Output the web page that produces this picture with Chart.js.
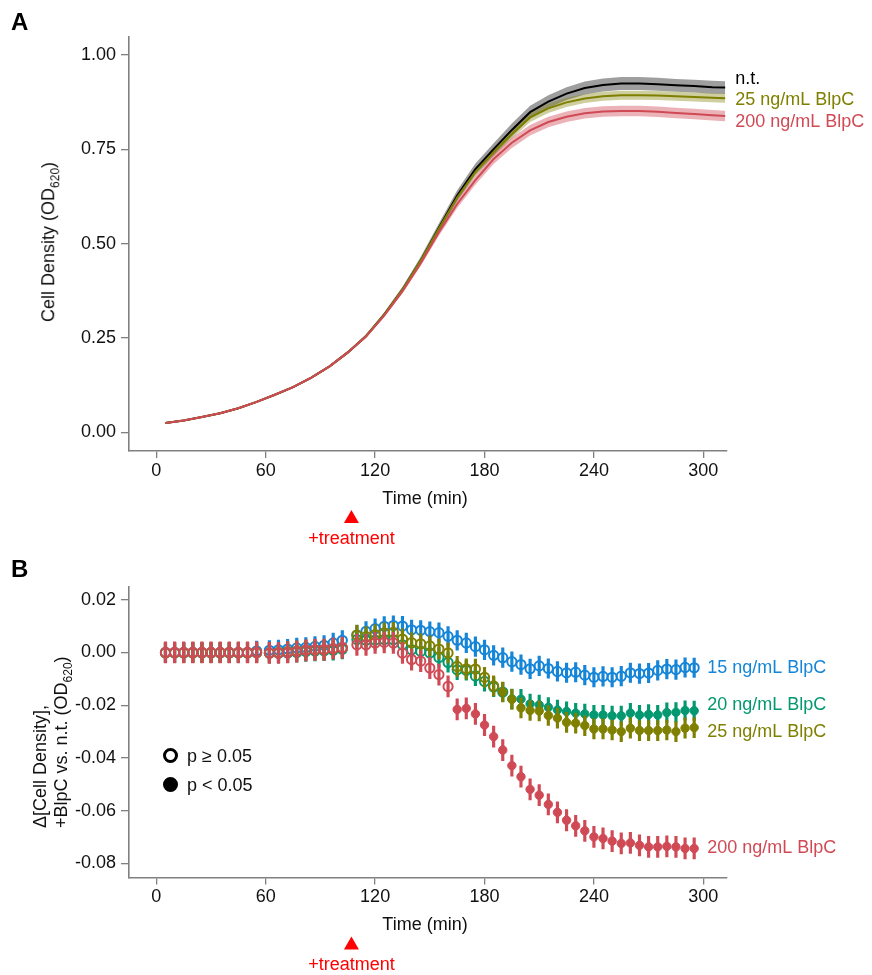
<!DOCTYPE html>
<html>
<head>
<meta charset="utf-8">
<title>Cell density after BlpC treatment</title>
<script src="https://cdn.jsdelivr.net/npm/chart.js"></script>
<style>
  body { margin: 0; background: #fff; font-family: "Liberation Sans", Arial, sans-serif; }
  #wrap { position: relative; width: 872px; height: 975px; }
  canvas { position: absolute; left: 0; }
  #chartA { top: 0; }
  #chartB { top: 560px; }
  .panel { position: absolute; left: 11px; font-weight: bold; font-size: 24px; line-height: 24px; }
  .ytitle { position: absolute; font-size: 18px; white-space: nowrap; color: #111; }
  .ytitle sub { font-size: 12px; }
  #titleA { left: 50px; top: 242px; transform: translate(-50%, -50%) rotate(-90deg); }
  #titleB { left: 30px; top: 828px; line-height: 21px; transform-origin: left top; transform: rotate(-90deg); }
  .key { position: absolute; left: 163px; font-size: 18px; line-height: 20px; color: #111; }
  .key span { display: inline-block; width: 9px; height: 9px; border: 3px solid #000; border-radius: 50%; vertical-align: -1px; margin-right: 9px; }
  .key span.full { background: #000; }
</style>
</head>
<body>
<div id="wrap">
  <canvas id="chartA" width="872" height="560"></canvas>
  <canvas id="chartB" width="872" height="415"></canvas>
  <div class="panel" style="top:10px">A</div>
  <div class="panel" style="top:557px">B</div>
  <div class="ytitle" id="titleA">Cell Density (OD<sub>620</sub>)</div>
  <div class="ytitle" id="titleB">Δ[Cell Density],<br>+BlpC vs. n.t. (OD<sub>620</sub>)</div>
  <div class="key" style="top:746px"><span></span>p ≥ 0.05</div>
  <div class="key" style="top:775px"><span class="full"></span>p &lt; 0.05</div>
</div>

<script>
// ---- data ----
var xTicks = [0, 60, 120, 180, 240, 300];
var yTicksA = [0, 0.25, 0.5, 0.75, 1];
var yTicksB = [0.02, 0, -0.02, -0.04, -0.06, -0.08];
var treatmentTime = 107;

// panel A: growth curves (mean and sd)
var timeA = [5, 15, 25, 35, 45, 55, 65, 75, 85, 95, 105, 115, 125, 135, 145, 155,
             165, 175, 185, 195, 205, 215, 225, 235, 245, 255, 265, 275, 285, 295, 305, 312];
var ntA    = [0.025, 0.032, 0.041, 0.051, 0.064, 0.081, 0.100, 0.120, 0.145, 0.175, 0.212, 0.255, 0.312, 0.378, 0.455, 0.542,
              0.627, 0.697, 0.750, 0.801, 0.848, 0.876, 0.897, 0.912, 0.920, 0.924, 0.924, 0.922, 0.919, 0.917, 0.914, 0.913];
var bl25A  = [0.025, 0.032, 0.041, 0.051, 0.064, 0.081, 0.100, 0.120, 0.145, 0.175, 0.212, 0.255, 0.312, 0.378, 0.455, 0.540,
              0.622, 0.690, 0.742, 0.790, 0.834, 0.858, 0.874, 0.884, 0.890, 0.893, 0.893, 0.892, 0.890, 0.888, 0.886, 0.885];
var bl200A = [0.025, 0.032, 0.041, 0.051, 0.064, 0.081, 0.100, 0.120, 0.145, 0.175, 0.212, 0.254, 0.310, 0.374, 0.448, 0.530,
              0.605, 0.668, 0.724, 0.767, 0.800, 0.822, 0.836, 0.845, 0.850, 0.851, 0.851, 0.849, 0.846, 0.843, 0.840, 0.838];
var ntSd    = [0.002, 0.002, 0.002, 0.002, 0.002, 0.002, 0.002, 0.002, 0.003, 0.003, 0.004, 0.005, 0.006, 0.008, 0.010, 0.012,
               0.014, 0.015, 0.016, 0.017, 0.017, 0.017, 0.017, 0.017, 0.017, 0.017, 0.017, 0.017, 0.017, 0.017, 0.017, 0.017];
var bl25Sd  = [0.001, 0.001, 0.001, 0.001, 0.001, 0.001, 0.002, 0.002, 0.002, 0.002, 0.003, 0.003, 0.004, 0.005, 0.006, 0.008,
               0.009, 0.010, 0.011, 0.012, 0.012, 0.012, 0.012, 0.012, 0.012, 0.012, 0.012, 0.012, 0.012, 0.012, 0.012, 0.012];
var bl200Sd = [0.001, 0.001, 0.001, 0.001, 0.001, 0.001, 0.002, 0.002, 0.002, 0.002, 0.003, 0.003, 0.004, 0.006, 0.007, 0.009,
               0.011, 0.012, 0.013, 0.014, 0.014, 0.014, 0.014, 0.014, 0.014, 0.014, 0.014, 0.014, 0.014, 0.014, 0.014, 0.014];

// panel B: difference vs n.t.
var timeB = [5, 10, 15, 20, 25, 30, 35, 40, 45, 50, 55,
             62, 67, 72, 77, 82, 87, 92, 97, 102,
             110, 115, 120, 125, 130, 135, 140, 145, 150, 155, 160, 165, 170, 175, 180, 185, 190, 195, 200,
             205, 210, 215, 220, 225, 230, 235, 240, 245, 250, 255, 260, 265, 270, 275, 280, 285, 290, 295];
var d15 = [0.0000, 0.0000, 0.0000, 0.0000, 0.0000, 0.0000, 0.0000, 0.0000, 0.0000, 0.0000, 0.0006,
           0.0008, 0.0010, 0.0013, 0.0017, 0.0019, 0.0023, 0.0027, 0.0036, 0.0046,
           0.0066, 0.0080, 0.0090, 0.0099, 0.0102, 0.0100, 0.0086, 0.0084, 0.0079, 0.0075, 0.0061, 0.0046, 0.0036, 0.0022,
           0.0010, -0.0011, -0.0020, -0.0035, -0.0046, -0.0062, -0.0051, -0.0061, -0.0072, -0.0077, -0.0075, -0.0086,
           -0.0094, -0.0091, -0.0094, -0.0090, -0.0077, -0.0080, -0.0078, -0.0068, -0.0063, -0.0065, -0.0057, -0.0058];
var d20 = [-0.0002, -0.0002, -0.0002, -0.0002, -0.0002, -0.0002, -0.0002, -0.0002, -0.0002, -0.0002, -0.0001,
           -0.0003, -0.0003, -0.0002, 0.0000, 0.0003, 0.0005, 0.0006, 0.0008, 0.0012,
           0.0049, 0.0046, 0.0047, 0.0049, 0.0048, 0.0029, 0.0010, 0.0004, -0.0002, -0.0019, -0.0038, -0.0066, -0.0068,
           -0.0089, -0.0110, -0.0131, -0.0150, -0.0176, -0.0177, -0.0195, -0.0199, -0.0208, -0.0218, -0.0224, -0.0230,
           -0.0233, -0.0237, -0.0237, -0.0240, -0.0240, -0.0230, -0.0237, -0.0235, -0.0237, -0.0228, -0.0227, -0.0220, -0.0221];
var d25 = [-0.0001, -0.0001, -0.0001, -0.0001, -0.0001, -0.0001, -0.0001, -0.0001, -0.0001, -0.0001, 0.0000,
           -0.0002, 0.0000, 0.0003, 0.0006, 0.0009, 0.0010, 0.0010, 0.0014, 0.0018,
           0.0066, 0.0060, 0.0068, 0.0074, 0.0076, 0.0051, 0.0037, 0.0033, 0.0025, 0.0013, -0.0002, -0.0053, -0.0062,
           -0.0063, -0.0094, -0.0127, -0.0150, -0.0178, -0.0210, -0.0220, -0.0222, -0.0239, -0.0249, -0.0265, -0.0268,
           -0.0277, -0.0290, -0.0290, -0.0294, -0.0300, -0.0287, -0.0296, -0.0296, -0.0296, -0.0294, -0.0300, -0.0287, -0.0285];
var d200 = [0.0000, 0.0000, 0.0000, 0.0000, 0.0000, 0.0000, 0.0000, 0.0000, 0.0000, 0.0000, 0.0000,
            -0.0002, -0.0002, 0.0000, 0.0003, 0.0008, 0.0010, 0.0011, 0.0015, 0.0018,
            0.0029, 0.0029, 0.0036, 0.0038, 0.0036, -0.0002, -0.0027, -0.0033, -0.0059, -0.0084, -0.0129, -0.0216, -0.0212,
            -0.0233, -0.0275, -0.0319, -0.0370, -0.0429, -0.0471, -0.0519, -0.0541, -0.0576, -0.0606, -0.0636, -0.0657,
            -0.0676, -0.0699, -0.0705, -0.0715, -0.0724, -0.0722, -0.0731, -0.0737, -0.0737, -0.0735, -0.0737, -0.0743, -0.0743];
// half length of the error bars
var err15 = 0.0037, err20 = 0.0037, err25 = 0.0038, err200 = 0.0040;
// first time point with p < 0.05 (null = never)
var sig15 = null, sig20 = 195, sig25 = 190, sig200 = 165;

// ---- style ----
var cBlack = '#000000', cOlive = '#7f7f00', cRed = '#d04a55', cBlue = '#1585d8', cGreen = '#03986f';
var axisGray = '#808080';
var fontFam = '"Liberation Sans", Arial, sans-serif';
Chart.defaults.font.family = fontFam;
Chart.defaults.font.size = 18;
Chart.defaults.color = '#111';

function pts(ts, vs) { return ts.map(function (t, i) { return { x: t, y: vs[i] }; }); }

function axes(xmin, xmax, ymin, ymax, yTicks) {
  return {
    x: {
      type: 'linear', min: xmin, max: xmax, offset: false,
      afterBuildTicks: function (s) { s.ticks = xTicks.map(function (v) { return { value: v }; }); },
      afterFit: function (s) { s.height = 60; },
      grid: { drawOnChartArea: false, drawTicks: true, tickLength: 7, color: axisGray, lineWidth: 1.3, offset: false },
      border: { display: true, color: axisGray, width: 1.6 },
      ticks: { padding: 2, maxRotation: 0, callback: function (v) { return v; } }
    },
    y: {
      type: 'linear', min: ymin, max: ymax,
      afterBuildTicks: function (s) { s.ticks = yTicks.map(function (v) { return { value: v }; }); },
      afterFit: function (s) { s.width = 129; },
      grid: { drawOnChartArea: false, drawTicks: true, tickLength: 8, color: axisGray, lineWidth: 1.3 },
      border: { display: true, color: axisGray, width: 1.6 },
      ticks: { padding: 5, callback: function (v) { return v.toFixed(2); } }
    }
  };
}

// right-hand labels, x title and the treatment marker
function decorations(labels, gap) {
  return {
    id: 'decorations',
    afterDatasetsDraw: function (chart) {
      var ctx = chart.ctx, xs = chart.scales.x, ys = chart.scales.y, area = chart.chartArea;
      ctx.save();
      ctx.font = '18px ' + fontFam;
      ctx.textBaseline = 'middle';
      ctx.textAlign = 'left';
      labels.forEach(function (l) {
        ctx.fillStyle = l.color;
        ctx.fillText(l.text, xs.getPixelForValue(l.t) + gap, ys.getPixelForValue(l.v) + l.dy);
      });
      ctx.textAlign = 'center';
      ctx.fillStyle = '#111';
      ctx.fillText('Time (min)', (area.left + area.right) / 2 - 3, area.bottom + 48);
      var tx = xs.getPixelForValue(treatmentTime), ty = area.bottom + 59;
      ctx.fillStyle = '#ff0000';
      ctx.beginPath();
      ctx.moveTo(tx, ty);
      ctx.lineTo(tx + 7.5, ty + 13);
      ctx.lineTo(tx - 7.5, ty + 13);
      ctx.closePath();
      ctx.fill();
      ctx.fillText('+treatment', tx, ty + 29);
      ctx.restore();
    }
  };
}

// ---- panel A ----
function band(mean, sd, color, order) {
  return [
    { data: pts(timeA, mean.map(function (m, i) { return m + sd[i]; })), borderWidth: 0, pointRadius: 0, fill: false, order: order },
    { data: pts(timeA, mean.map(function (m, i) { return m - sd[i]; })), borderWidth: 0, pointRadius: 0, fill: '-1', backgroundColor: color, order: order }
  ];
}
var dsA = [].concat(
  band(ntA, ntSd, 'rgba(0,0,0,0.38)', 5),
  band(bl25A, bl25Sd, 'rgba(127,127,0,0.38)', 4),
  band(bl200A, bl200Sd, 'rgba(208,74,85,0.42)', 3),
  [
    { data: pts(timeA, ntA), borderColor: cBlack, borderWidth: 2, pointRadius: 0, fill: false, order: 2 },
    { data: pts(timeA, bl25A), borderColor: cOlive, borderWidth: 2, pointRadius: 0, fill: false, order: 1 },
    { data: pts(timeA, bl200A), borderColor: cRed, borderWidth: 2, pointRadius: 0, fill: false, order: 0 }
  ]
);
var last = timeA[timeA.length - 1];
new Chart(document.getElementById('chartA'), {
  type: 'line',
  data: { datasets: dsA },
  options: {
    responsive: false, animation: false, devicePixelRatio: 1, events: [],
    layout: { padding: { left: 0, top: 37, right: 145, bottom: 49 } },
    plugins: { legend: { display: false }, tooltip: { enabled: false } },
    scales: axes(-15, 313, -0.049, 1.047, yTicksA)
  },
  plugins: [decorations([
    { text: 'n.t.', t: last, v: ntA[ntA.length - 1], dy: -9, color: cBlack },
    { text: '25 ng/mL BlpC', t: last, v: bl25A[bl25A.length - 1], dy: 2, color: cOlive },
    { text: '200 ng/mL BlpC', t: last, v: bl200A[bl200A.length - 1], dy: 6, color: cRed }
  ], 10)]
});

// ---- panel B ----
function series(vals, err, sigFrom, color, order) {
  var open = function (t) { return sigFrom === null || t < sigFrom; };
  return [
    {
      type: 'scatter', data: pts(timeB, vals), order: order,
      pointRadius: timeB.map(function (t) { return open(t) ? 4.6 : 4.2; }),
      pointBorderWidth: timeB.map(function (t) { return open(t) ? 2 : 1; }),
      pointBorderColor: color,
      pointBackgroundColor: timeB.map(function (t) { return open(t) ? 'rgba(0,0,0,0)' : color; })
    },
    {
      type: 'bar', data: timeB.map(function (t, i) { return { x: t, y: [vals[i] - err, vals[i] + err] }; }),
      backgroundColor: color, borderWidth: 0, barThickness: 2.5, grouped: false, order: order + 1
    }
  ];
}
var dsB = [].concat(
  series(d15, err15, sig15, cBlue, 6),
  series(d20, err20, sig20, cGreen, 4),
  series(d25, err25, sig25, cOlive, 2),
  series(d200, err200, sig200, cRed, 0)
);
var lastB = timeB[timeB.length - 1];
new Chart(document.getElementById('chartB'), {
  type: 'scatter',
  data: { datasets: dsB },
  options: {
    responsive: false, animation: false, devicePixelRatio: 1, events: [],
    layout: { padding: { left: 0, top: 27, right: 145, bottom: 37.5 } },
    plugins: { legend: { display: false }, tooltip: { enabled: false } },
    scales: axes(-15, 313, -0.0853, 0.0248, yTicksB)
  },
  plugins: [decorations([
    { text: '15 ng/mL BlpC', t: lastB, v: d15[d15.length - 1], dy: 0, color: cBlue },
    { text: '20 ng/mL BlpC', t: lastB, v: d20[d20.length - 1], dy: -6, color: cGreen },
    { text: '25 ng/mL BlpC', t: lastB, v: d25[d25.length - 1], dy: 4, color: cOlive },
    { text: '200 ng/mL BlpC', t: lastB, v: d200[d200.length - 1], dy: 0, color: cRed }
  ], 13)]
});
</script>
</body>
</html>
